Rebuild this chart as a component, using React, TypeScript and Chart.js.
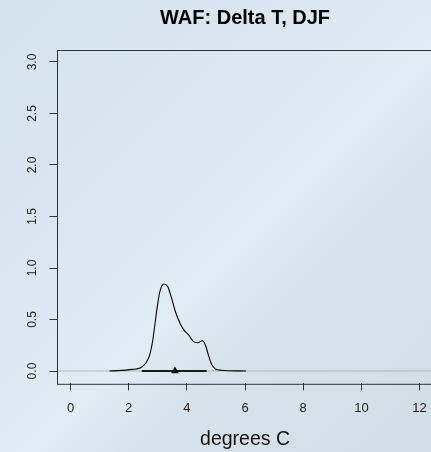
import React, { useEffect, useRef } from "react";
import { Chart, registerables } from "chart.js";

Chart.register(...registerables);

// Density curve (degrees C vs density)
const densX = [1.34, 2.13, 2.41, 2.58, 2.72, 2.81, 2.89, 2.98, 3.07, 3.21, 3.34, 3.47, 3.6, 3.77, 3.92, 4.06, 4.23, 4.37, 4.53, 4.64, 4.74, 4.85, 4.98, 5.19, 6.03];
const densY = [0.0, 0.016, 0.032, 0.075, 0.155, 0.27, 0.43, 0.62, 0.77, 0.845, 0.82, 0.71, 0.58, 0.46, 0.39, 0.35, 0.285, 0.275, 0.294, 0.25, 0.155, 0.065, 0.02, 0.008, 0.0];

// Range bar and mean marker
const rangeX = [2.45, 4.68];
const rangeY = [0, 0];
const meanX = [3.59];
const meanY = [0];

// Axes
const xLimits = [-0.48, 12.48];
const yLimits = [-0.12, 3.12];
const xStep = 2;
const yStep = 0.5;

const titleText = "WAF: Delta T, DJF";
const xTitle = "degrees C";

const FONT = "'Liberation Sans', Arial, Helvetica, sans-serif";

const boxPlugin = {
  id: "boxPlugin",
  beforeDatasetsDraw(chart: any) {
    const { ctx, chartArea, scales } = chart;
    const y0 = scales.y.getPixelForValue(0);
    ctx.save();
    ctx.strokeStyle = "#b4b4b4";
    ctx.lineWidth = 1;
    ctx.beginPath();
    ctx.moveTo(chartArea.left, y0);
    ctx.lineTo(chartArea.right, y0);
    ctx.stroke();
    ctx.restore();
  },
  afterDraw(chart: any) {
    const { ctx, chartArea, scales } = chart;
    ctx.save();
    ctx.strokeStyle = "#333333";
    ctx.lineWidth = 1;
    ctx.strokeRect(
      Math.round(chartArea.left) + 0.5,
      Math.round(chartArea.top) + 0.5,
      chartArea.right - chartArea.left,
      chartArea.bottom - chartArea.top
    );
    // rotated y tick labels (R style, parallel to axis)
    const ys = scales.y;
    ctx.fillStyle = "#222";
    ctx.font = `12px ${FONT}`;
    ctx.textAlign = "center";
    ctx.textBaseline = "middle";
    ys.ticks.forEach((t: any) => {
      const py = ys.getPixelForValue(t.value);
      ctx.save();
      ctx.translate(33, py);
      ctx.rotate(-Math.PI / 2);
      ctx.fillText(Number(t.value).toFixed(1), 0, 0);
      ctx.restore();
    });
    ctx.restore();
  },
};

export default function App() {
  const ref = useRef<HTMLCanvasElement | null>(null);

  useEffect(() => {
    if (!ref.current) return;
    const chart = new Chart(ref.current, {
      type: "line",
      data: {
        datasets: [
          {
            label: "mean",
            type: "scatter",
            data: meanX.map((x, i) => ({ x, y: meanY[i] })),
            pointStyle: "triangle",
            pointRadius: 4.5,
            backgroundColor: "#000",
            borderColor: "#000",
            borderWidth: 0,
            order: 0,
          } as any,
          {
            label: "range",
            data: rangeX.map((x, i) => ({ x, y: rangeY[i] })),
            borderColor: "#1a1a1a",
            borderWidth: 2,
            pointRadius: 0,
            order: 1,
          },
          {
            label: "density",
            data: densX.map((x, i) => ({ x, y: densY[i] })),
            borderColor: "#000",
            borderWidth: 1.1,
            pointRadius: 0,
            cubicInterpolationMode: "monotone",
            order: 2,
          },
        ],
      },
      options: {
        animation: false,
        responsive: false,
        devicePixelRatio: 1,
        layout: { padding: 0 },
        plugins: {
          legend: { display: false },
          tooltip: { enabled: false },
          title: {
            display: true,
            text: titleText,
            fullSize: false,
            color: "#000",
            font: { family: FONT, size: 20, weight: "bold", lineHeight: 1.2 },
            padding: { top: 6.5, bottom: 19.1 },
          },
        },
        scales: {
          x: {
            type: "linear",
            min: xLimits[0],
            max: xLimits[1],
            grid: {
              display: true,
              drawOnChartArea: false,
              drawTicks: true,
              tickLength: 7,
              tickColor: "#333",
              color: "#333",
            },
            border: { display: false },
            ticks: {
              stepSize: xStep,
              includeBounds: false,
              color: "#222",
              padding: 10,
              maxRotation: 0,
              autoSkip: false,
              font: { family: FONT, size: 13 },
              callback: (v: any) => String(Math.round(Number(v))),
            },
            title: {
              display: true,
              text: xTitle,
              color: "#111",
              font: { family: FONT, size: 19.5, lineHeight: 1.2 },
              padding: { top: 0, bottom: 0.4 },
            },
            afterFit: (scale: any) => {
              scale.height = 68.6;
            },
          },
          y: {
            type: "linear",
            min: yLimits[0],
            max: yLimits[1],
            grid: {
              display: true,
              drawOnChartArea: false,
              drawTicks: true,
              tickLength: 7,
              tickColor: "#333",
              color: "#333",
            },
            border: { display: false },
            ticks: {
              stepSize: yStep,
              includeBounds: false,
              display: false,
              autoSkip: false,
            },
            afterFit: (scale: any) => {
              scale.width = 56.6;
            },
          },
        },
      },
      plugins: [boxPlugin],
    });
    return () => chart.destroy();
  }, []);

  return (
    <div
      style={{
        position: "fixed",
        left: 0,
        top: 0,
        width: 431,
        height: 452,
        overflow: "hidden",
        background:
          "linear-gradient(135deg, #d5e3ef 0%, #d9e6f1 30%, #e0ecf6 55%, #d6e2ec 66%, #d1dde7 100%)",
      }}
    >
      <canvas ref={ref} width={438} height={452} style={{ display: "block" }} />
    </div>
  );
}
